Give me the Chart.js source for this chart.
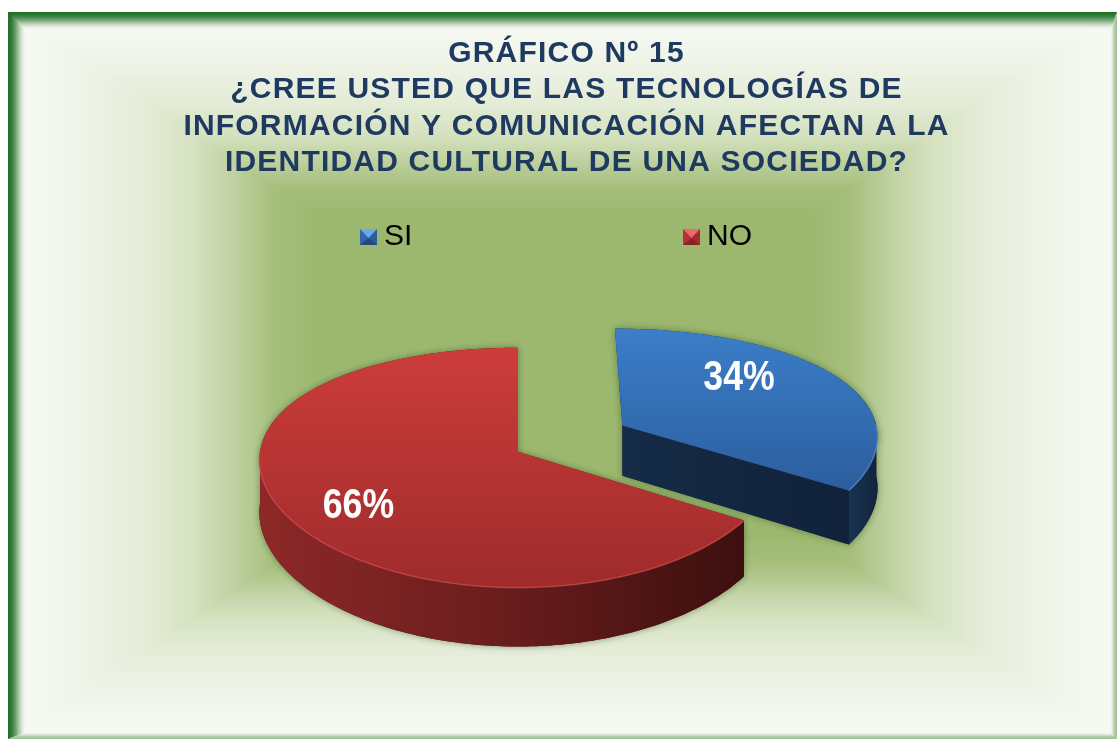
<!DOCTYPE html>
<html lang="es">
<head>
<meta charset="utf-8">
<title>Gráfico Nº 15</title>
<script src="https://cdn.jsdelivr.net/npm/chart.js@4.4.1/dist/chart.umd.min.js"></script>
<style>
  html, body { margin: 0; padding: 0; background: #fff; }
  #chart { display: block; }
</style>
</head>
<body>
<canvas id="chart" width="1117" height="739"></canvas>
<script>
// datos
const categories = ['SI', 'NO'];
const percentages = [34, 66];
const titleLines = [
    'GRÁFICO Nº 15',
    '¿CREE USTED QUE LAS TECNOLOGÍAS DE',
    'INFORMACIÓN Y COMUNICACIÓN AFECTAN A LA',
    'IDENTIDAD CULTURAL DE UNA SOCIEDAD?',
];

function mix(a, b, k) {
    return [a[0] + (b[0] - a[0]) * k, a[1] + (b[1] - a[1]) * k, a[2] + (b[2] - a[2]) * k];
}

function sampleStops(stops, t) {
    if (t <= stops[0][0]) return stops[0][1];
    for (let i = 1; i < stops.length; i++) {
        if (t <= stops[i][0]) {
            const k = (t - stops[i - 1][0]) / (stops[i][0] - stops[i - 1][0]);
            return mix(stops[i - 1][1], stops[i][1], k);
        }
    }
    return stops[stops.length - 1][1];
}

// fondo tipo marco biselado con degradado rectangular
function buildFrame(w, h, f) {
    const c = document.createElement('canvas');
    c.width = w;
    c.height = h;
    const g = c.getContext('2d');
    const img = g.createImageData(w, h);
    const d = img.data;
    const gx = (f.left + f.right) / 2, gy = (f.top + f.bottom) / 2;
    const hw = (f.right - f.left) / 2, hh = (f.bottom - f.top) / 2;
    for (let y = 0; y < h; y++) {
        for (let x = 0; x < w; x++) {
            const p = (y * w + x) * 4;
            let col = [255, 255, 255];
            if (x >= f.left && y >= f.top && x < f.right && y < f.bottom) {
                const t = Math.max(Math.abs(x + 0.5 - gx) / hw, Math.abs(y + 0.5 - gy) / hh);
                col = sampleStops(f.stops, t);
                const edges = [
                    [(x - f.left) / f.bevelLT, f.darkEdge],
                    [(y - f.top) / f.bevelLT, f.darkEdge],
                    [(f.right - 1 - x) / f.bevelRB, f.lightEdge],
                    [(f.bottom - 1 - y) / f.bevelRB, f.lightEdge],
                ];
                let m = 1, ec = null;
                edges.forEach(([n, ecol]) => {
                    if (n < m) { m = n; ec = ecol; }
                });
                if (ec) {
                    let k = Math.min(m / 0.8, 1);
                    k = k * k * (3 - 2 * k);
                    col = mix(ec, col, k);
                }
            }
            d[p] = col[0];
            d[p + 1] = col[1];
            d[p + 2] = col[2];
            d[p + 3] = 255;
        }
    }
    g.putImageData(img, 0, 0);
    return c;
}

function bevelSquare(base, light, side, dark) {
    const c = document.createElement('canvas');
    c.width = 17;
    c.height = 16;
    const g = c.getContext('2d');
    g.fillStyle = base;
    g.fillRect(0, 0, 17, 16);
    g.fillStyle = side;
    g.beginPath(); g.moveTo(17, 0); g.lineTo(8.5, 9); g.lineTo(17, 16); g.closePath(); g.fill();
    g.fillStyle = dark;
    g.beginPath(); g.moveTo(0, 16); g.lineTo(8.5, 9); g.lineTo(17, 16); g.closePath(); g.fill();
    g.fillStyle = light;
    g.beginPath(); g.moveTo(0, 0); g.lineTo(17, 0); g.lineTo(8.5, 9); g.closePath(); g.fill();
    return c;
}

const frameBackground = {
    id: 'frameBackground',
    beforeDraw(chart, args, opts) {
        if (!this._img) this._img = buildFrame(chart.width, chart.height, opts);
        const ctx = chart.ctx;
        ctx.drawImage(this._img, 0, 0);
        // el título del original va algo espaciado
        ctx.letterSpacing = opts.titleSpacing;
    },
};

function polyPath(ctx, pts) {
    ctx.beginPath();
    pts.forEach(([x, y], k) => (k ? ctx.lineTo(x, y) : ctx.moveTo(x, y)));
    ctx.closePath();
}

function hGradient(ctx, pts, colors) {
    const xs = pts.map(p => p[0]);
    const g = ctx.createLinearGradient(Math.min(...xs), 0, Math.max(...xs), 0);
    colors.forEach((c, k) => g.addColorStop(k / (colors.length - 1), c));
    return g;
}

function vGradient(ctx, pts, colors) {
    const ys = pts.map(p => p[1]);
    const g = ctx.createLinearGradient(0, Math.min(...ys), 0, Math.max(...ys));
    colors.forEach((c, k) => g.addColorStop(k / (colors.length - 1), c));
    return g;
}

// pastel 3D: la geometría (ángulos, radio, separación) la calcula Chart.js
const pie3d = {
    id: 'pie3d',
    beforeDatasetsDraw(chart, args, opts) {
        const ctx = chart.ctx;
        ctx.letterSpacing = '0px';
        const arcs = chart.getDatasetMeta(0).data;
        if (!arcs.length) return false;
        const R = arcs[0].outerRadius;
        const cx = arcs[0].x + opts.shiftX;
        const cy = arcs[0].y + opts.shiftY;
        const proj = (u, v, dz) => {
            const sx = 1 + opts.perspectiveX * v / R;
            const sy = 1 + opts.perspectiveY * v / R;
            return [cx + u * sx, cy + (v * opts.tilt + dz) * sy];
        };
        const step = Math.PI / 180;

        arcs.forEach((arc, i) => {
            const a0 = arc.startAngle, a1 = arc.endAngle;
            const mid = (a0 + a1) / 2;
            const off = arc.options.offset || 0;
            const ou = Math.cos(mid) * off, ov = Math.sin(mid) * off;
            const rim = (a, dz) => proj(ou + R * Math.cos(a), ov + R * Math.sin(a), dz);
            const apex = dz => proj(ou, ov, dz);
            const arcPts = (from, to, dz) => {
                const n = Math.max(2, Math.ceil((to - from) / step));
                const out = [];
                for (let k = 0; k <= n; k++) out.push(rim(from + (to - from) * k / n, dz));
                return out;
            };

            const top = [apex(0), ...arcPts(a0, a1, 0)];
            const walls = [];
            [-2 * Math.PI, 0, 2 * Math.PI].forEach(base => {
                const lo = Math.max(a0, base), hi = Math.min(a1, base + Math.PI);
                if (hi > lo) walls.push([...arcPts(lo, hi, 0), ...arcPts(lo, hi, opts.depth).reverse()]);
            });
            const faces = [];
            if (Math.cos(a0) < -1e-6) faces.push([apex(0), rim(a0, 0), rim(a0, opts.depth), apex(opts.depth)]);
            if (Math.cos(a1) > 1e-6) faces.push([apex(0), rim(a1, 0), rim(a1, opts.depth), apex(opts.depth)]);

            // sombra suave del cuerpo
            ctx.save();
            ctx.shadowColor = opts.shadowColor;
            ctx.shadowBlur = opts.shadowBlur;
            ctx.fillStyle = opts.faceColors[i][0];
            [...walls, ...faces, top].forEach(pts => { polyPath(ctx, pts); ctx.fill(); });
            ctx.restore();

            walls.forEach(pts => {
                polyPath(ctx, pts);
                ctx.fillStyle = hGradient(ctx, pts, opts.wallColors[i]);
                ctx.fill();
            });
            faces.forEach(pts => {
                polyPath(ctx, pts);
                ctx.fillStyle = hGradient(ctx, pts, opts.faceColors[i]);
                ctx.fill();
            });
            polyPath(ctx, top);
            ctx.fillStyle = vGradient(ctx, top, opts.topColors[i]);
            ctx.fill();

            // filo claro del borde delantero
            walls.forEach(pts => {
                const edge = pts.slice(0, pts.length / 2);
                ctx.beginPath();
                edge.forEach(([x, y], k) => (k ? ctx.lineTo(x, y) : ctx.moveTo(x, y)));
                ctx.strokeStyle = opts.rimColors[i];
                ctx.lineWidth = 1.5;
                ctx.stroke();
            });
        });

        // porcentajes (letra estrecha: se comprime en horizontal)
        ctx.save();
        ctx.fillStyle = opts.labelColor;
        ctx.font = opts.labelFont;
        ctx.textAlign = 'center';
        ctx.textBaseline = 'middle';
        arcs.forEach((arc, i) => {
            const mid = (arc.startAngle + arc.endAngle) / 2;
            const off = arc.options.offset || 0;
            const a = mid + opts.labelAngle[i] * Math.PI / 180;
            const r = R * opts.labelRadius[i];
            const [x, y] = proj(Math.cos(mid) * off + r * Math.cos(a), Math.sin(mid) * off + r * Math.sin(a), 0);
            ctx.save();
            ctx.translate(x, y);
            ctx.scale(opts.labelSqueeze, 1);
            ctx.fillText(chart.data.datasets[0].data[i] + '%', 0, 0);
            ctx.restore();
        });
        ctx.restore();
        return false;
    },
};

// leyenda con cuadritos biselados
const bevelLegend = {
    id: 'bevelLegend',
    afterDraw(chart, args, opts) {
        const ctx = chart.ctx;
        if (!this._marks) this._marks = opts.marks.map(m => bevelSquare(...m));
        ctx.save();
        ctx.letterSpacing = '0px';
        ctx.font = opts.font;
        ctx.fillStyle = opts.color;
        ctx.textBaseline = 'middle';
        ctx.textAlign = 'left';
        chart.data.labels.forEach((label, i) => {
            const x = opts.x[i];
            ctx.drawImage(this._marks[i], x, opts.y - 8);
            ctx.fillText(label, x + 17 + opts.gap, opts.y);
        });
        ctx.restore();
    },
};

new Chart(document.getElementById('chart'), {
    type: 'pie',
    data: {
        labels: categories,
        datasets: [{
            data: percentages,
            backgroundColor: ['#3a7cc7', '#c93c3a'],
            radius: 258,
            offset: [121, 0],
            borderWidth: 0,
        }],
    },
    options: {
        responsive: false,
        devicePixelRatio: 1,
        animation: false,
        events: [],
        layout: { padding: { left: 16, right: 0, top: 0, bottom: 107 } },
        plugins: {
            legend: { display: false },
            tooltip: { enabled: false },
            title: {
                display: true,
                text: titleLines,
                color: '#1f3a60',
                font: { family: "'Liberation Sans', Arial, sans-serif", size: 30, weight: 'bold', lineHeight: 1.22 },
                padding: { top: 35, bottom: 90 },
            },
            frameBackground: {
                left: 8, top: 12, right: 1117, bottom: 739,
                bevelLT: 22, bevelRB: 8,
                darkEdge: [35, 112, 38],
                lightEdge: [160, 196, 150],
                stops: [
                    [0, [156, 184, 111]],
                    [0.44, [156, 184, 111]],
                    [0.52, [166, 191, 124]],
                    [0.6, [194, 211, 165]],
                    [0.66, [212, 225, 190]],
                    [0.75, [228, 236, 215]],
                    [0.84, [237, 242, 229]],
                    [0.96, [246, 249, 242]],
                    [1, [246, 249, 242]],
                ],
                titleSpacing: '1.2px',
            },
            pie3d: {
                shiftX: -48.5,
                shiftY: 0,
                tilt: 0.465,
                perspectiveX: 0.07,
                perspectiveY: 0.133,
                depth: 52,
                shadowColor: 'rgba(25, 55, 10, 0.45)',
                shadowBlur: 7,
                topColors: [['#3b7ec9', '#2c5e9e'], ['#cc3d3b', '#9f2b2b']],
                wallColors: [['#1a3352', '#12243b'], ['#8d2828', '#6a1d1d', '#3d0f0f']],
                faceColors: [['#152b46', '#11223a'], ['#5a1616', '#3d0f0f']],
                rimColors: ['rgba(110, 160, 225, 0.55)', 'rgba(225, 90, 90, 0.55)'],
                labelColor: '#ffffff',
                labelFont: "bold 42px 'Liberation Sans', Arial, sans-serif",
                labelSqueeze: 0.85,
                labelRadius: [0.66, 0.74],
                labelAngle: [-13.5, -7],
            },
            bevelLegend: {
                x: [360, 683],
                y: 237,
                gap: 7,
                font: "30px 'Liberation Sans', Arial, sans-serif",
                color: '#000000',
                marks: [
                    ['#3266a8', '#68a8ee', '#2d5c98', '#24497c'],
                    ['#b33232', '#ee6a6a', '#a52c2c', '#8a2424'],
                ],
            },
        },
    },
    plugins: [frameBackground, pie3d, bevelLegend],
});
</script>
</body>
</html>
